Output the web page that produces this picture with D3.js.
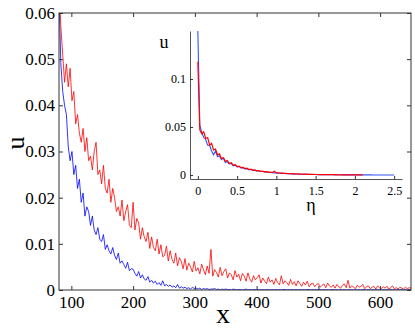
<!DOCTYPE html>
<html>
<head>
<meta charset="utf-8">
<script src="https://cdn.jsdelivr.net/npm/d3@7"></script>
<style>
  html, body { margin: 0; padding: 0; background: #fff; }
  svg { display: block; }
  text { font-family: "Liberation Serif", "Times New Roman", serif; fill: #000; }
</style>
</head>
<body>
<svg id="chart" width="415" height="329"></svg>
<script>
// ---------------- DATA ----------------
// Main plot: x sampled from 80 to 650 every 3 units
const mainXStart = 80, mainXEnd = 650, mainXStep = 3;
const mainRed = [
  0.066,0.057,0.051,0.045,0.049,0.044,0.048,0.041,0.043,0.036,
  0.038,0.034,0.032,0.035,0.030,0.033,0.028,0.029,0.026,0.030,
  0.032,0.025,0.026,0.023,0.027,0.022,0.021,0.024,0.019,0.022,
  0.020,0.017,0.018,0.016,0.0195,0.015,0.017,0.0185,0.014,0.0135,
  0.019,0.013,0.0155,0.0145,0.011,0.0135,0.0115,0.0105,0.0125,0.009,
  0.0115,0.0092,0.0085,0.011,0.0078,0.0098,0.0072,0.0075,0.0095,0.0063,
  0.0085,0.0066,0.0058,0.0080,0.0052,0.0070,0.0062,0.0046,0.0068,0.0043,
  0.0058,0.0050,0.0039,0.0062,0.0041,0.0048,0.0035,0.0056,0.0044,0.0033,
  0.0052,0.0036,0.0088,0.0030,0.0044,0.0038,0.0028,0.0049,0.0031,0.0040,
  0.0046,0.0026,0.0037,0.0033,0.0022,0.0042,0.0028,0.0034,0.0020,0.0036,
  0.0030,0.0019,0.0037,0.0024,0.0017,0.0031,0.0022,0.0027,0.0033,0.0015,
  0.0026,0.0019,0.0014,0.0028,0.0017,0.0022,0.0012,0.0025,0.0016,0.0011,
  0.0031,0.0013,0.0020,0.0016,0.0010,0.0023,0.0012,0.0018,0.0009,0.0020,
  0.0014,0.0008,0.0017,0.0011,0.0019,0.0007,0.0013,0.0015,0.0007,0.0012,
  0.0014,0.0006,0.0010,0.0013,0.0005,0.0015,0.0009,0.0006,0.0011,0.0004,
  0.0012,0.0007,0.0004,0.0010,0.0013,0.0005,0.0021,0.0004,0.0009,0.0006,
  0.0003,0.0010,0.0006,0.0008,0.0012,0.0003,0.0007,0.0009,0.0003,0.0006,
  0.0008,0.0002,0.0009,0.0005,0.0003,0.0007,0.0004,0.0008,0.0002,0.0005,
  0.0009,0.0003,0.0005,0.0002,0.0006,0.0004,0.0002,0.0006,0.0003,0.0005,0.0004
];
const mainBlue = [
  0.064,0.049,0.043,0.040,0.038,0.031,0.028,0.030,0.025,0.027,
  0.022,0.024,0.019,0.021,0.016,0.018,0.017,0.014,0.016,0.013,
  0.012,0.0135,0.011,0.0105,0.012,0.0088,0.0098,0.0085,0.0078,0.0092,
  0.0075,0.0066,0.0080,0.0058,0.0063,0.0055,0.0047,0.0060,0.0042,0.0046,
  0.0045,0.0036,0.0030,0.0040,0.0026,0.0033,0.0024,0.0021,0.0029,0.0017,
  0.0021,0.0015,0.0019,0.0012,0.0016,0.0010,0.0020,0.0009,0.0012,0.0008,
  0.0011,0.0006,0.0009,0.0005,0.0012,0.0004,0.0007,0.0004,0.0006,0.0003,
  0.0005,0.0002,0.0006,0.0003,0.0004,0.0002,0.0004,0.0001,0.0003,0.0002,
  0.0003,0.0001,0.0002,0.0002,0.0003,0.0001,0.0002,0.0000,0.0002,0.0001,
  0.0002,0.0001,0.0001,0.0000,0.0002,0.0001,0.0000,0.0001,0.0001,0.0000,
  0.0001,0.0002,0.0000,0.0001,0.0000,0.0001,0.0001,0.0000,0.0001,0.0000,
  0.0001,0.0000,0.0001,0.0001,0.0000,0.0001,0.0000,0.0001,0.0000,0.0001,
  0.0000,0.0001,0.0001,0.0000,0.0001,0.0000,0.0001,0.0000,0.0001,0.0000,
  0.0001,0.0000,0.0001,0.0000,0.0001,0.0001,0.0000,0.0001,0.0000,0.0001,
  0.0000,0.0001,0.0000,0.0001,0.0000,0.0001,0.0000,0.0001,0.0001,0.0000,
  0.0001,0.0000,0.0001,0.0000,0.0001,0.0000,0.0001,0.0000,0.0001,0.0000,
  0.0001,0.0000,0.0001,0.0000,0.0001,0.0001,0.0000,0.0001,0.0000,0.0001,
  0.0000,0.0001,0.0000,0.0001,0.0000,0.0001,0.0000,0.0001,0.0000,0.0001,
  0.0000,0.0001,0.0000,0.0001,0.0000,0.0001,0.0000,0.0001,0.0000,0.0001,0.0000
];
const mainXTicks = [100, 200, 300, 400, 500, 600];
const mainYTicks = [0, 0.01, 0.02, 0.03, 0.04, 0.05, 0.06];
const mainYTickLabels = ["0", "0.01", "0.02", "0.03", "0.04", "0.05", "0.06"];

// Inset: eta sampled every 0.025
const insetEtaStep = 0.025;
const insetBlue = [
  0.150,0.052,0.044,0.039,0.037,0.031,0.031,0.025,0.021,0.025,
  0.019,0.020,0.016,0.0175,0.013,0.014,0.0115,0.012,0.0095,0.0102,
  0.0085,0.0087,0.0074,0.0076,0.0064,0.0065,0.0055,0.0056,0.0048,0.0048,
  0.0041,0.0042,0.0036,0.0036,0.0031,0.0031,0.0027,0.0026,0.0024,0.0022,
  0.0021,0.0019,0.0018,0.0017,0.0015,0.0014,0.0013,0.0012,0.0011,0.0010,
  0.0010,0.0009,0.0008,0.0008,0.0007,0.0007,0.0006,0.0006,0.0005,0.0005,
  0.0005,0.0004,0.0004,0.0004,0.0003,0.0003,0.0003,0.0003,0.0002,0.0002,
  0.0002,0.0002,0.0002,0.0002,0.0001,0.0001,0.0001,0.0001,0.0001,0.0001,
  0.0001,0.0001,0.0001,0.0001,0.0001,0.0001,0.0001,0.0001,0.0001,0.0000,
  0.0000,0.0000,0.0000,0.0000,0.0000,0.0000,0.0000,0.0000,0.0000,0.0000,0.0000
];
const insetRed = [
  0.118,0.047,0.043,0.045,0.038,0.039,0.031,0.033,0.026,0.027,
  0.021,0.022,0.017,0.018,0.0145,0.015,0.012,0.0128,0.0102,0.0108,
  0.0088,0.0092,0.0076,0.0080,0.0066,0.0070,0.0057,0.0061,0.0050,0.0052,
  0.0043,0.0046,0.0038,0.0040,0.0033,0.0035,0.0029,0.0031,0.0026,0.0038,
  0.0022,0.0023,0.0019,0.0020,0.0016,0.0017,0.0014,0.0015,0.0012,0.0013,
  0.0010,0.0011,0.0009,0.0010,0.0008,0.0008,0.0007,0.0007,0.0006,0.0006,
  0.0005,0.0005,0.0004,0.0005,0.0004,0.0004,0.0003,0.0003,0.0003,0.0003,
  0.0002,0.0002,0.0002,0.0002,0.0002,0.0002,0.0001,0.0001,0.0001,0.0001,
  0.0001,0.0001,0.0001,0.0001,0.0001
];
const insetXTicks = [0, 0.5, 1, 1.5, 2, 2.5];
const insetXTickLabels = ["0", "0.5", "1", "1.5", "2", "2.5"];
const insetYTicks = [0, 0.05, 0.1];
const insetYTickLabels = ["0", "0.05", "0.1"];

// ---------------- DRAW ----------------
const svg = d3.select("#chart");
const mainX = d3.range(mainXStart, mainXEnd + 1, mainXStep);

const M = { left: 59, right: 411, top: 13, bottom: 290 };
const x = d3.scaleLinear().domain([80, 650]).range([M.left, M.right]);
const y = d3.scaleLinear().domain([0, 0.06]).range([M.bottom, M.top]);

svg.append("clipPath").attr("id", "mainclip")
  .append("rect").attr("x", M.left).attr("y", M.top)
  .attr("width", M.right - M.left).attr("height", M.bottom - M.top);

const gLines = svg.append("g").attr("clip-path", "url(#mainclip)");
const mainLine = d3.line().x((d, i) => x(mainX[i])).y(d => y(d));
gLines.append("path").datum(mainBlue).attr("d", mainLine)
  .attr("fill", "none").attr("stroke", "#0000ff").attr("stroke-width", 0.8);
gLines.append("path").datum(mainRed).attr("d", mainLine)
  .attr("fill", "none").attr("stroke", "#ff0000").attr("stroke-width", 0.8);

const axisColor = "#333";
function styleAxis(g) {
  g.select(".domain").remove();
  g.selectAll("line").attr("stroke", axisColor);
  g.selectAll("text").style("font-family", '"Liberation Serif", serif').attr("fill", "#000");
}

svg.append("g").attr("transform", `translate(0,${M.bottom})`)
  .call(d3.axisBottom(x).tickValues(mainXTicks).tickSizeInner(-4).tickSizeOuter(0).tickPadding(6))
  .call(styleAxis).call(g => g.selectAll("text").style("font-size", "17px"));
svg.append("g").attr("transform", `translate(0,${M.top})`)
  .call(d3.axisTop(x).tickValues(mainXTicks).tickSizeInner(-4).tickSizeOuter(0).tickFormat(""))
  .call(styleAxis);
svg.append("g").attr("transform", `translate(${M.left},0)`)
  .call(d3.axisLeft(y).tickValues(mainYTicks).tickSizeInner(-4).tickSizeOuter(0).tickPadding(4)
    .tickFormat((d, i) => mainYTickLabels[i]))
  .call(styleAxis).call(g => g.selectAll("text").style("font-size", "17px"));
svg.append("g").attr("transform", `translate(${M.right},0)`)
  .call(d3.axisRight(y).tickValues(mainYTicks).tickSizeInner(-4).tickSizeOuter(0).tickFormat(""))
  .call(styleAxis);

svg.append("rect").attr("x", M.left).attr("y", M.top)
  .attr("width", M.right - M.left).attr("height", M.bottom - M.top)
  .attr("fill", "none").attr("stroke", axisColor).attr("stroke-width", 1);

svg.append("text").attr("transform", "translate(24,143) rotate(-90)")
  .attr("text-anchor", "middle").style("font-size", "26px").text("u");
svg.append("text").attr("x", 223).attr("y", 323)
  .attr("text-anchor", "middle").style("font-size", "28px").text("x");

// ---- Inset ----
const I = { left: 190, right: 402, top: 31, bottom: 179 };
const xi = d3.scaleLinear().domain([-0.1, 2.6]).range([I.left, I.right]);
const yi = d3.scaleLinear().domain([-0.0042, 0.15]).range([I.bottom, I.top]);

const insetLine = d3.line().x((d, i) => xi(i * insetEtaStep)).y(d => yi(d));
svg.append("path").datum(insetBlue).attr("d", insetLine)
  .attr("fill", "none").attr("stroke", "#3355ff").attr("stroke-width", 1.1);
svg.append("path").datum(insetRed).attr("d", insetLine)
  .attr("fill", "none").attr("stroke", "#ff0000").attr("stroke-width", 1.2);

svg.append("g").attr("transform", `translate(0,${I.bottom})`)
  .call(d3.axisBottom(xi).tickValues(insetXTicks).tickSizeInner(-3).tickSizeOuter(0).tickPadding(7)
    .tickFormat((d, i) => insetXTickLabels[i]))
  .call(g => { g.selectAll("line").attr("stroke", axisColor); g.select(".domain").attr("stroke", "#555"); })
  .call(g => g.selectAll("text").style("font-size", "12px").style("font-family", '"Liberation Serif", serif'));
svg.append("g").attr("transform", `translate(${I.left},0)`)
  .call(d3.axisLeft(yi).tickValues(insetYTicks).tickSizeInner(-3).tickSizeOuter(0).tickPadding(4)
    .tickFormat((d, i) => insetYTickLabels[i]))
  .call(g => { g.selectAll("line").attr("stroke", axisColor); g.select(".domain").attr("stroke", "#555"); })
  .call(g => g.selectAll("text").style("font-size", "12px").style("font-family", '"Liberation Serif", serif'));

svg.append("text").attr("x", 164).attr("y", 48)
  .attr("text-anchor", "middle").style("font-size", "18px").text("u");
svg.append("text").attr("x", 311).attr("y", 211)
  .attr("text-anchor", "middle").style("font-size", "18px").text("η");
</script>
</body>
</html>
